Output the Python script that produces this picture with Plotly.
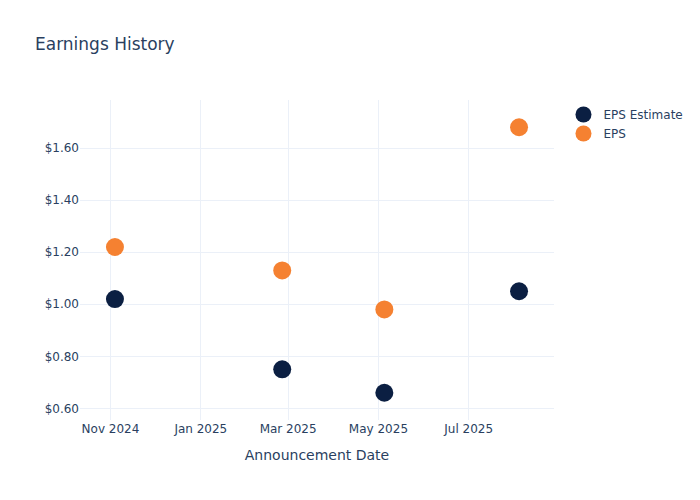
import plotly.graph_objects as go

dates = ["2024-11-04", "2025-02-25", "2025-05-05", "2025-08-04"]
eps_estimate = [1.02, 0.75, 0.66, 1.05]
eps_actual = [1.22, 1.13, 0.98, 1.68]

fig = go.Figure()
fig.add_trace(go.Scatter(x=dates, y=eps_estimate, mode="markers", name="EPS Estimate",
                         marker=dict(size=18, color="#0b1f42")))
fig.add_trace(go.Scatter(x=dates, y=eps_actual, mode="markers", name="EPS",
                         marker=dict(size=18, color="#f58131")))
fig.update_layout(
    template="plotly_white",
    width=700, height=500,
    font=dict(family="DejaVu Sans"),
    title=dict(text="Earnings History"),
    xaxis=dict(title=dict(text="Announcement Date"), tickformat="%b %Y", dtick="M2"),
    yaxis=dict(tickprefix="$", tickformat=".2f"),
)
fig.write_html("out.html", config={"displayModeBar": False},
               post_script="document.body.style.margin='0';")
